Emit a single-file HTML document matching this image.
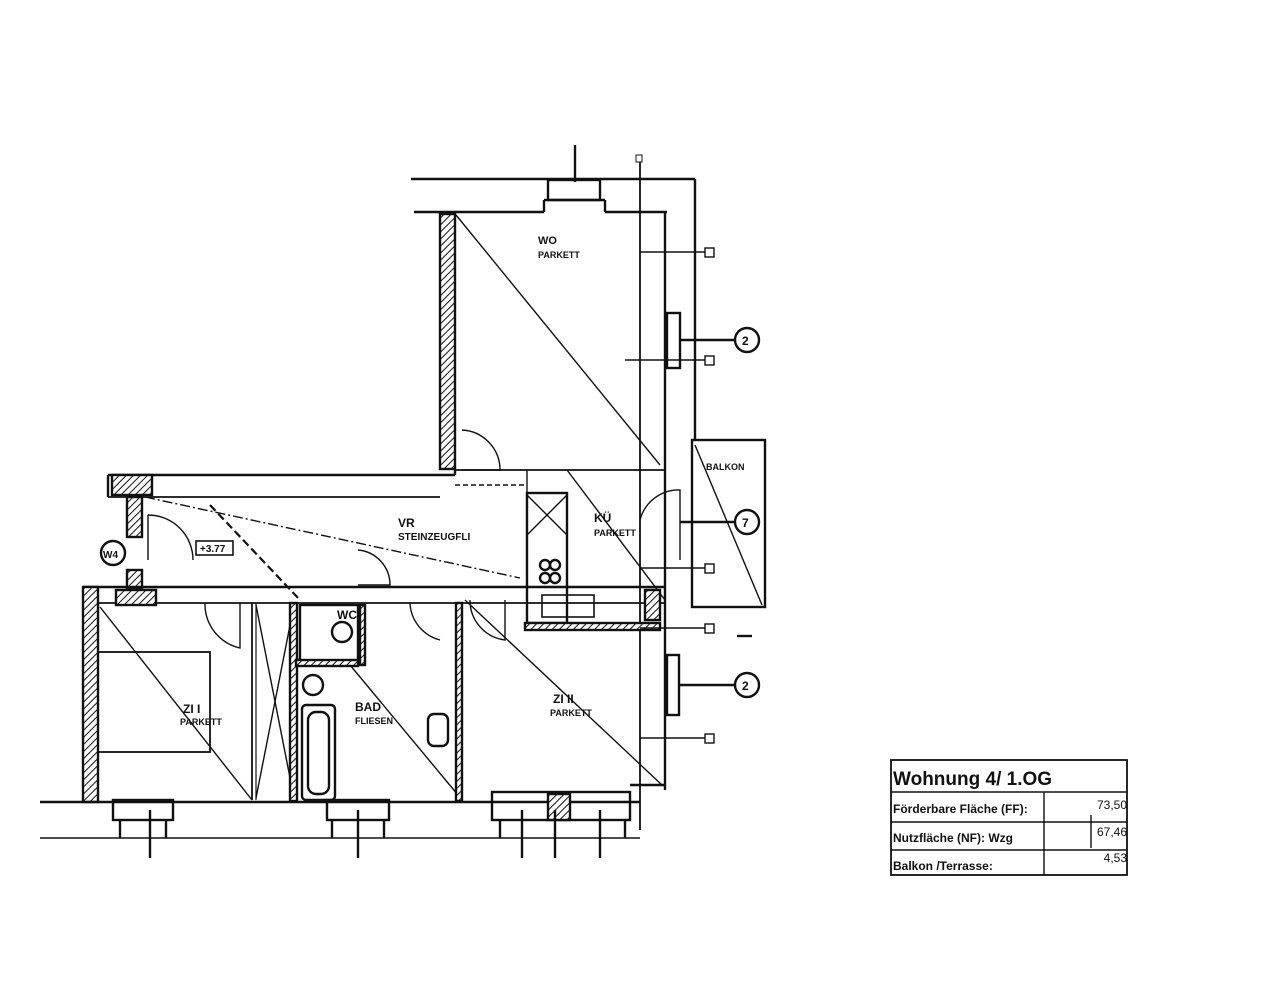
<!DOCTYPE html>
<html><head><meta charset="utf-8"><style>
html,body{margin:0;padding:0;background:#fff;}
svg{display:block}
text{font-family:"Liberation Sans",sans-serif;fill:#111}
.t{font-family:"Liberation Sans",sans-serif;font-weight:bold;font-size:11px}
</style></head><body>
<svg width="1280" height="995" viewBox="0 0 1280 995" xmlns="http://www.w3.org/2000/svg">
<defs>
<pattern id="h" width="5" height="5" patternUnits="userSpaceOnUse" patternTransform="rotate(45)">
<rect width="5" height="5" fill="#fff"/><line x1="0" y1="0" x2="0" y2="5" stroke="#111" stroke-width="2"/></pattern>
</defs>
<g stroke="#111" stroke-width="2.4" fill="none">
<line x1="411" y1="179" x2="695" y2="179"/>
<line x1="695" y1="179" x2="695" y2="440"/>
<line x1="575" y1="145" x2="575" y2="182"/>
<line x1="640" y1="162" x2="640" y2="830" stroke-width="1.8"/>
<rect x="636" y="155" width="6" height="7" stroke-width="1"/>
<rect x="548" y="180" width="52" height="20"/>
<line x1="544" y1="200" x2="605" y2="200"/>
<line x1="544" y1="200" x2="544" y2="212"/><line x1="605" y1="200" x2="605" y2="212"/>
<line x1="414" y1="212" x2="544" y2="212"/>
<line x1="605" y1="212" x2="667" y2="212"/>
<line x1="665" y1="212" x2="665" y2="790"/>
<rect x="440" y="214" width="15" height="255" fill="url(#h)"/>
<line x1="456" y1="215" x2="660" y2="465" stroke-width="1.4"/>
<rect x="667" y="313" width="13" height="55"/>
<line x1="680" y1="340" x2="735" y2="340"/>
<circle cx="747" cy="340" r="12"/>
<line x1="640" y1="252" x2="705" y2="252" stroke-width="1.4"/><rect x="705" y="248" width="9" height="9" stroke-width="1.4"/>
<line x1="625" y1="360" x2="705" y2="360" stroke-width="1.4"/><rect x="705" y="356" width="9" height="9" stroke-width="1.4"/>
<rect x="692" y="440" width="73" height="167"/>
<line x1="695" y1="445" x2="762" y2="605" stroke-width="1.4"/>
<line x1="108" y1="475" x2="455" y2="475"/>
<line x1="455" y1="470" x2="455" y2="475"/>
<line x1="108" y1="475" x2="108" y2="497"/>
<rect x="112" y="475" width="40" height="20" fill="url(#h)"/>
<line x1="108" y1="497" x2="440" y2="497" stroke-width="1.8"/>
<rect x="127" y="497" width="15" height="40" fill="url(#h)"/>
<rect x="127" y="570" width="15" height="18" fill="url(#h)"/>
<line x1="145" y1="497" x2="520" y2="578" stroke-width="1.4" stroke-dasharray="10 3 2 3"/>
<line x1="210" y1="505" x2="300" y2="600" stroke-width="2.2" stroke-dasharray="8 4"/>
<path d="M148 515 A45 45 0 0 1 193 560" stroke-width="1.4"/>
<line x1="148" y1="515" x2="148" y2="560" stroke-width="1.4"/>
<rect x="196" y="541" width="37" height="14" stroke-width="1.6"/>
<circle cx="113" cy="553" r="12"/>
<line x1="83" y1="587" x2="665" y2="587"/>
<line x1="83" y1="603" x2="665" y2="603" stroke-width="1.8"/>
<rect x="83" y="587" width="15" height="215" fill="url(#h)"/>
<rect x="116" y="590" width="40" height="15" fill="url(#h)"/>
<line x1="40" y1="802" x2="640" y2="802"/>
<line x1="40" y1="838" x2="640" y2="838" stroke-width="1.4"/>
<line x1="100" y1="607" x2="252" y2="800" stroke-width="1.4"/>
<rect x="98" y="652" width="112" height="100" stroke-width="1.8"/>
<line x1="252" y1="603" x2="252" y2="800" stroke-width="1.8"/>
<line x1="256" y1="603" x2="256" y2="800" stroke-width="1.2"/>
<path d="M205 603 A45 45 0 0 0 240 648 L240 603" stroke-width="1.4"/>
<line x1="256" y1="605" x2="294" y2="798" stroke-width="1.4"/>
<line x1="294" y1="605" x2="256" y2="798" stroke-width="1.4"/>
<rect x="290" y="603" width="7" height="198" fill="url(#h)"/>
<rect x="300" y="605" width="58" height="57"/>
<rect x="296" y="660" width="62" height="6" fill="url(#h)"/>
<circle cx="342" cy="632" r="10"/>
<rect x="360" y="605" width="5" height="60" fill="url(#h)"/>
<path d="M358 550 A35 35 0 0 1 390 585 L358 585" stroke-width="1.4"/>
<rect x="302" y="705" width="33" height="95" rx="4"/>
<rect x="308" y="712" width="21" height="82" rx="8"/>
<circle cx="313" cy="685" r="10"/>
<line x1="350" y1="665" x2="458" y2="795" stroke-width="1.4"/>
<rect x="428" y="714" width="20" height="32" rx="6"/>
<rect x="456" y="603" width="6" height="198" fill="url(#h)"/>
<path d="M410 603 A40 40 0 0 0 440 640" stroke-width="1.4"/>
<line x1="465" y1="600" x2="662" y2="785" stroke-width="1.4"/>
<path d="M470 600 A40 40 0 0 0 505 640 L505 600" stroke-width="1.4"/>
<line x1="630" y1="785" x2="665" y2="785"/>
<rect x="667" y="655" width="12" height="60"/>
<line x1="680" y1="685" x2="735" y2="685"/>
<circle cx="747" cy="685" r="12"/>
<rect x="527" y="493" width="40" height="130"/>
<line x1="527" y1="495" x2="567" y2="535" stroke-width="1.4"/><line x1="567" y1="495" x2="527" y2="535" stroke-width="1.4"/>
<rect x="525" y="623" width="135" height="7" fill="url(#h)"/>
<line x1="567" y1="470" x2="665" y2="600" stroke-width="1.4"/>
<circle cx="545" cy="565" r="5"/><circle cx="555" cy="565" r="5"/><circle cx="545" cy="578" r="5"/><circle cx="555" cy="578" r="5"/>
<rect x="542" y="595" width="52" height="22" stroke-width="1.6"/>
<path d="M640 520 A40 40 0 0 1 680 490 L680 560" stroke-width="1.4"/>
<rect x="645" y="590" width="15" height="30" fill="url(#h)"/>
<line x1="455" y1="470" x2="665" y2="470" stroke-width="1.8"/>
<line x1="455" y1="485" x2="527" y2="485" stroke-width="1.4" stroke-dasharray="5 3"/>
<line x1="527" y1="470" x2="527" y2="493" stroke-width="1.4"/>
<path d="M462 430 A40 40 0 0 1 500 470 L462 470" stroke-width="1.4"/>
<line x1="680" y1="522" x2="735" y2="522"/>
<circle cx="747" cy="522" r="12"/>
<line x1="640" y1="568" x2="705" y2="568" stroke-width="1.4"/><rect x="705" y="564" width="9" height="9" stroke-width="1.4"/>
<line x1="640" y1="628" x2="705" y2="628" stroke-width="1.4"/><rect x="705" y="624" width="9" height="9" stroke-width="1.4"/>
<line x1="640" y1="738" x2="705" y2="738" stroke-width="1.4"/><rect x="705" y="734" width="9" height="9" stroke-width="1.4"/>
<line x1="737" y1="636" x2="752" y2="636"/>
<rect x="113" y="800" width="60" height="20"/><line x1="120" y1="820" x2="120" y2="838"/><line x1="166" y1="820" x2="166" y2="838"/>
<line x1="150" y1="810" x2="150" y2="858"/>
<rect x="327" y="800" width="62" height="20"/><line x1="332" y1="820" x2="332" y2="838"/><line x1="384" y1="820" x2="384" y2="838"/>
<line x1="358" y1="810" x2="358" y2="858"/>
<rect x="492" y="792" width="138" height="28"/>
<rect x="548" y="794" width="22" height="26" fill="url(#h)"/>
<line x1="500" y1="820" x2="500" y2="838"/><line x1="625" y1="820" x2="625" y2="838"/>
<line x1="522" y1="810" x2="522" y2="858"/><line x1="555" y1="810" x2="555" y2="858"/><line x1="600" y1="810" x2="600" y2="858"/>
<rect x="891" y="760" width="236" height="115" stroke-width="1.8"/>
<line x1="891" y1="792" x2="1127" y2="792" stroke-width="1.4"/>
<line x1="891" y1="822" x2="1127" y2="822" stroke-width="1.4"/>
<line x1="891" y1="850" x2="1127" y2="850" stroke-width="1.4"/>
<line x1="1044" y1="792" x2="1044" y2="875" stroke-width="1.4"/>
<line x1="1091" y1="815" x2="1091" y2="848" stroke-width="1.4"/>
</g>
<g class="t">
<text x="538" y="244" font-size="11">WO</text><text x="538" y="258" font-size="9">PARKETT</text>
<text x="398" y="527" font-size="12">VR</text><text x="398" y="540" font-size="10">STEINZEUGFLI</text>
<text x="594" y="522" font-size="12">KÜ</text><text x="594" y="536" font-size="9">PARKETT</text>
<text x="183" y="713" font-size="12">ZI I</text><text x="180" y="725" font-size="9">PARKETT</text>
<text x="355" y="711" font-size="12">BAD</text><text x="355" y="724" font-size="9">FLIESEN</text>
<text x="553" y="703" font-size="12">ZI II</text><text x="550" y="716" font-size="9">PARKETT</text>
<text x="337" y="619" font-size="12">WC</text>
<text x="706" y="470" font-size="9">BALKON</text>
<text x="742" y="345" font-size="12">2</text><text x="742" y="527" font-size="12">7</text><text x="742" y="690" font-size="12">2</text>
<text x="103" y="558" font-size="10">W4</text>
<text x="200" y="552" font-size="10">+3.77</text>
</g>
<g font-family="Liberation Sans, sans-serif" fill="#111">
<text x="893" y="785" font-size="19" font-weight="bold">Wohnung 4/ 1.OG</text>
<text x="893" y="813" font-size="12" font-weight="bold">Förderbare Fläche (FF):</text>
<text x="1127" y="809" font-size="12" text-anchor="end">73,50</text>
<text x="893" y="842" font-size="12" font-weight="bold">Nutzfläche (NF): Wzg</text>
<text x="1127" y="836" font-size="12" text-anchor="end">67,46</text>
<text x="893" y="870" font-size="12" font-weight="bold">Balkon /Terrasse:</text>
<text x="1127" y="862" font-size="12" text-anchor="end">4,53</text>
</g>
</svg>
</body></html>
